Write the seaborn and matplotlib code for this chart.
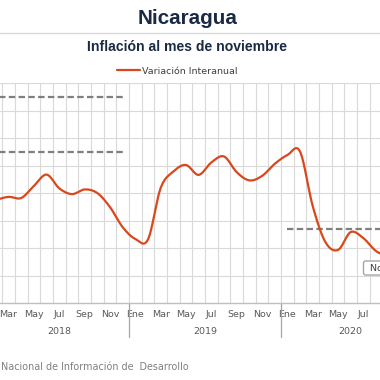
import numpy as np
import pandas as pd
import matplotlib
matplotlib.use("Agg")
import matplotlib.pyplot as plt
import matplotlib.transforms as mtransforms
from matplotlib.lines import Line2D
from matplotlib.patches import FancyBboxPatch
import seaborn as sns

# ---------------- data ----------------
month_abbr = ["Ene", "Feb", "Mar", "Abr", "May", "Jun", "Jul", "Ago", "Sep", "Oct", "Nov", "Dic"]
years = [2018] * 11 + [2019] * 12 + [2020] * 11
months = month_abbr[1:] + month_abbr + month_abbr[:11]
inflation = [4.76, 4.87, 4.83, 5.27, 5.68, 5.18, 4.97, 5.14, 5.01, 4.50, 3.77,
             3.34, 3.32, 5.19, 5.79, 6.03, 5.67, 6.12, 6.34, 5.77, 5.47, 5.63, 6.07,
             6.39, 6.52, 4.54, 3.23, 2.94, 3.59, 3.37, 2.90, 2.70, 2.55, 2.60]
range_years = [2018, 2018, 2020]
range_values = [8.5, 6.5, 3.7]
series_label = "Variación Interanual"
title = "Nicaragua"
subtitle = "Inflación al mes de noviembre"
footer = "Nacional de Información de  Desarrollo"
callout = "Nov 2020; 2.60"

df = pd.DataFrame({"year": years, "month": months, "value": inflation})
df["idx"] = (df["year"] - 2018) * 12 + df["month"].map(month_abbr.index)

# ---------------- style ----------------
sns.set_style("white")
plt.rcParams["font.family"] = ["DejaVu Sans"]

W = H = 380.0
def fx(px):
    return px / W
def fy(py):
    return 1 - py / H

fig = plt.figure(figsize=(3.8, 3.8), dpi=100)
top_px, bot_px = 83.3, 303.3
ax = fig.add_axes([0, fy(bot_px), 1, (bot_px - top_px) / H])

line_col = "#d9481c"
grid_col = "#d9d9d9"


def smooth(x, y, n=20):
    x = np.asarray(x, float)
    y = np.asarray(y, float)
    px = np.concatenate([[x[0]], x, [x[-1]]])
    py = np.concatenate([[y[0]], y, [y[-1]]])
    xs, ys = [], []
    t = np.linspace(0, 1, n, endpoint=False)
    for i in range(1, len(px) - 2):
        p0x, p1x, p2x, p3x = px[i - 1], px[i], px[i + 1], px[i + 2]
        p0y, p1y, p2y, p3y = py[i - 1], py[i], py[i + 1], py[i + 2]
        c1x, c1y = p1x + (p2x - p0x) / 6, p1y + (p2y - p0y) / 6
        c2x, c2y = p2x - (p3x - p1x) / 6, p2y - (p3y - p1y) / 6
        b0, b1, b2, b3 = (1 - t) ** 3, 3 * (1 - t) ** 2 * t, 3 * (1 - t) * t ** 2, t ** 3
        xs.append(b0 * p1x + b1 * c1x + b2 * c2x + b3 * p2x)
        ys.append(b0 * p1y + b1 * c1y + b2 * c2y + b3 * p2y)
    xs.append([x[-1]])
    ys.append([y[-1]])
    return np.concatenate(xs), np.concatenate(ys)


# range (dashed) lines
for yr, val in zip(range_years, range_values):
    sub = df[df["year"] == yr]
    sns.lineplot(x=[sub["idx"].min(), sub["idx"].max()], y=[val, val], ax=ax,
                 color="#7f7f7f", lw=1.6, dashes=False, legend=False,
                 linestyle=(0, (2.9, 1.5)))

sx, sy = smooth(df["idx"], df["value"])
sns.lineplot(x=sx, y=sy, sort=False, ax=ax, color=line_col, lw=1.6,
             label=series_label, estimator=None)

# axes
ax.set_yticks(np.arange(1, 10))
ax.set_yticklabels([])
ax.tick_params(axis="y", length=0)
minor = np.arange(df["idx"].min() - 0.5, df["idx"].max() + 1.0, 1.0)
ax.set_xticks(minor, minor=True)
tick_df = df[df["idx"] % 2 == 0]
ax.set_xticks(tick_df["idx"])
ax.set_xticklabels(tick_df["month"])
x0 = 2 - 8.6 / 12.67
ax.set_xlim(x0, x0 + W / 12.67)
ax.set_ylim(1, 9)
ax.tick_params(axis="x", which="both", length=0, pad=5, labelsize=6.8, labelcolor="#595959")
ax.grid(False)
ax.yaxis.grid(True, color=grid_col, lw=0.8)
ax.xaxis.grid(True, which="minor", color=grid_col, lw=0.8)
for s in ["top", "left", "right"]:
    ax.spines[s].set_visible(False)
ax.spines["bottom"].set_color("#bfbfbf")
ax.spines["bottom"].set_linewidth(1.0)
ax.set_xlabel("")
ax.set_ylabel("")

# year labels and separators
trans = mtransforms.blended_transform_factory(ax.transData, ax.transAxes)
for yr in sorted(set(years)):
    sub = df[df["year"] == yr]
    lo, hi = sub["idx"].min() - 0.5, sub["idx"].max() + 0.5
    ax.text((lo + hi) / 2, -0.129, str(yr), transform=trans, ha="center", va="center",
            fontsize=6.8, color="#595959")
    if yr != min(years):
        ax.plot([lo, lo], [0, -0.152], transform=trans, clip_on=False, color="#a6a6a6", lw=0.9)

# legend
ax.legend(loc="center left", bbox_to_anchor=(fx(116.7), fy(71.3)), bbox_transform=fig.transFigure,
          frameon=False, fontsize=6.8, handlelength=2.43, handletextpad=0.3, borderpad=0,
          borderaxespad=0, labelcolor="#404040")

# titles
fig.text(fx(187.3), fy(18.5), title, ha="center", va="center", fontsize=14.9, fontweight="bold",
         color="#1b2a44", family=["Liberation Sans", "DejaVu Sans"])
fig.text(fx(187.3), fy(46.7), subtitle, ha="center", va="center", fontsize=10.1, fontweight="bold",
         color="#1b2a44", family=["Liberation Sans", "DejaVu Sans"])
fig.add_artist(Line2D([0, 1], [fy(33.3), fy(33.3)], transform=fig.transFigure, color="#d9d9d9", lw=1.0))

# callout box (cut off by the right edge, as in the reference)
fig.add_artist(FancyBboxPatch((fx(363.5), fy(275)), fx(40), fx(14.0),
                              boxstyle="round,pad=0,rounding_size=0.006",
                              transform=fig.transFigure, facecolor="white", edgecolor="#a6a6a6", lw=1.0))
fig.text(fx(369.5), fy(268), callout, ha="left", va="center", fontsize=6.8, color="#404040")

# footer
fig.text(fx(0.7), fy(366.7), footer, ha="left", va="center", fontsize=6.9, color="#7f7f7f")

fig.savefig("out.png", dpi=100)
